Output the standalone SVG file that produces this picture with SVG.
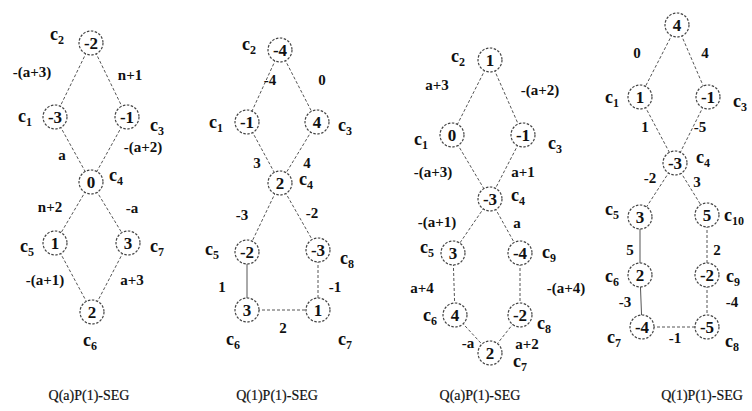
<svg xmlns="http://www.w3.org/2000/svg" width="752" height="411" viewBox="0 0 752 411" font-family="'Liberation Serif', serif">
<style>
.n circle{fill:#fff;stroke:#444;stroke-width:1.2;stroke-dasharray:2.5 1.5}
.v{font-family:"Liberation Serif",serif;font-weight:bold;font-size:17px;text-anchor:middle;fill:#111}
.c{font-family:"Liberation Serif",serif;font-weight:bold;font-size:18px;text-anchor:middle;fill:#111}
.c tspan{font-size:12px}
.w{font-family:"Liberation Serif",serif;font-weight:bold;font-size:15px;text-anchor:middle;fill:#111}
.e line{stroke:#555;stroke-width:1;stroke-dasharray:3 2}
.e line.s{stroke-dasharray:none}
.cap{font-family:"Liberation Serif",serif;font-size:14px;text-anchor:middle;fill:#111;stroke:#111;stroke-width:0.2}
</style>
<g id="connectors" class="e">
<line x1="91" y1="43" x2="55" y2="117"/><line x1="91" y1="43" x2="127" y2="117"/>
<line x1="55" y1="117" x2="91" y2="182"/><line x1="127" y1="117" x2="91" y2="182"/>
<line x1="91" y1="182" x2="55" y2="243"/><line x1="91" y1="182" x2="128" y2="243"/>
<line x1="55" y1="243" x2="92" y2="312"/><line x1="128" y1="243" x2="92" y2="312"/>
<line x1="280" y1="50" x2="247" y2="122"/><line x1="280" y1="50" x2="317" y2="122"/>
<line x1="247" y1="122" x2="280" y2="183"/><line x1="317" y1="122" x2="280" y2="183"/>
<line x1="280" y1="183" x2="247" y2="252"/><line x1="280" y1="183" x2="318" y2="250"/>
<line class="s" x1="247" y1="252" x2="247" y2="310"/><line x1="318" y1="250" x2="318" y2="310"/>
<line x1="247" y1="310" x2="318" y2="310"/>
<line x1="490" y1="60" x2="452" y2="135"/><line x1="490" y1="60" x2="523" y2="135"/>
<line x1="452" y1="135" x2="490" y2="199"/><line x1="523" y1="135" x2="490" y2="199"/>
<line x1="490" y1="199" x2="453" y2="253"/><line x1="490" y1="199" x2="520" y2="253"/>
<line x1="453" y1="253" x2="455" y2="315"/><line x1="520" y1="253" x2="520" y2="315"/>
<line x1="455" y1="315" x2="490" y2="353"/><line x1="520" y1="315" x2="490" y2="353"/>
<line x1="677" y1="25" x2="640" y2="97"/><line x1="677" y1="25" x2="708" y2="97"/>
<line x1="640" y1="97" x2="675" y2="163"/><line x1="708" y1="97" x2="675" y2="163"/>
<line x1="675" y1="163" x2="640" y2="217"/><line x1="675" y1="163" x2="707" y2="215"/>
<line class="s" x1="640" y1="217" x2="640" y2="275"/><line x1="707" y1="215" x2="707" y2="275"/>
<line class="s" x1="640" y1="275" x2="642" y2="327"/><line x1="707" y1="275" x2="707" y2="327"/>
<line x1="642" y1="327" x2="707" y2="327"/>
</g>
<g id="edge-labels">
<text class="w" x="32" y="77">-(a+3)</text><text class="w" x="130" y="80">n+1</text>
<text class="w" x="62" y="160">a</text><text class="w" x="143" y="152">-(a+2)</text>
<text class="w" x="50" y="212">n+2</text><text class="w" x="132" y="213">-a</text>
<text class="w" x="45" y="285">-(a+1)</text><text class="w" x="132" y="285">a+3</text>

<text class="w" x="270" y="85">-4</text><text class="w" x="322" y="85">0</text>
<text class="w" x="257" y="168">3</text><text class="w" x="307" y="168">4</text>
<text class="w" x="242" y="220">-3</text><text class="w" x="312" y="218">-2</text>
<text class="w" x="222" y="292">1</text><text class="w" x="335" y="292">-1</text>
<text class="w" x="283" y="333">2</text>

<text class="w" x="437" y="90">a+3</text><text class="w" x="540" y="95">-(a+2)</text>
<text class="w" x="433" y="177">-(a+3)</text><text class="w" x="523" y="177">a+1</text>
<text class="w" x="437" y="227">-(a+1)</text><text class="w" x="517" y="228">a</text>
<text class="w" x="422" y="293">a+4</text><text class="w" x="566" y="293">-(a+4)</text>
<text class="w" x="468" y="348">-a</text><text class="w" x="527" y="349">a+2</text>

<text class="w" x="637" y="58">0</text><text class="w" x="705" y="58">4</text>
<text class="w" x="645" y="132">1</text><text class="w" x="700" y="132">-5</text>
<text class="w" x="650" y="183">-2</text><text class="w" x="697" y="187">3</text>
<text class="w" x="630" y="255">5</text><text class="w" x="717" y="255">2</text>
<text class="w" x="625" y="307">-3</text><text class="w" x="732" y="307">-4</text>
<text class="w" x="675" y="343">-1</text>
</g>
<g id="d1-c2" class="n"><circle cx="91" cy="43" r="12"/><text class="v" x="91" y="49">-2</text><text class="c" x="57" y="40">c<tspan dy="4">2</tspan></text></g>
<g id="d1-c1" class="n"><circle cx="55" cy="117" r="12"/><text class="v" x="55" y="123">-3</text><text class="c" x="25" y="122">c<tspan dy="4">1</tspan></text></g>
<g id="d1-c3" class="n"><circle cx="127" cy="117" r="12"/><text class="v" x="127" y="123">-1</text><text class="c" x="157" y="131">c<tspan dy="4">3</tspan></text></g>
<g id="d1-c4" class="n"><circle cx="91" cy="182" r="12"/><text class="v" x="91" y="188">0</text><text class="c" x="116" y="181">c<tspan dy="4">4</tspan></text></g>
<g id="d1-c5" class="n"><circle cx="55" cy="243" r="12"/><text class="v" x="55" y="249">1</text><text class="c" x="27" y="252">c<tspan dy="4">5</tspan></text></g>
<g id="d1-c7" class="n"><circle cx="128" cy="243" r="12"/><text class="v" x="128" y="249">3</text><text class="c" x="157" y="252">c<tspan dy="4">7</tspan></text></g>
<g id="d1-c6" class="n"><circle cx="92" cy="312" r="12"/><text class="v" x="92" y="318">2</text><text class="c" x="90" y="346">c<tspan dy="4">6</tspan></text></g>
<g id="d2-c2" class="n"><circle cx="280" cy="50" r="12"/><text class="v" x="280" y="56">-4</text><text class="c" x="249" y="50">c<tspan dy="4">2</tspan></text></g>
<g id="d2-c1" class="n"><circle cx="247" cy="122" r="12"/><text class="v" x="247" y="128">-1</text><text class="c" x="216" y="128">c<tspan dy="4">1</tspan></text></g>
<g id="d2-c3" class="n"><circle cx="317" cy="122" r="12"/><text class="v" x="317" y="128">4</text><text class="c" x="345" y="131">c<tspan dy="4">3</tspan></text></g>
<g id="d2-c4" class="n"><circle cx="280" cy="183" r="12"/><text class="v" x="280" y="189">2</text><text class="c" x="306" y="185">c<tspan dy="4">4</tspan></text></g>
<g id="d2-c5" class="n"><circle cx="247" cy="252" r="12"/><text class="v" x="247" y="258">-2</text><text class="c" x="212" y="255">c<tspan dy="4">5</tspan></text></g>
<g id="d2-c8" class="n"><circle cx="318" cy="250" r="12"/><text class="v" x="318" y="256">-3</text><text class="c" x="347" y="264">c<tspan dy="4">8</tspan></text></g>
<g id="d2-c6" class="n"><circle cx="247" cy="310" r="12"/><text class="v" x="247" y="316">3</text><text class="c" x="233" y="345">c<tspan dy="4">6</tspan></text></g>
<g id="d2-c7" class="n"><circle cx="318" cy="310" r="12"/><text class="v" x="318" y="316">1</text><text class="c" x="345" y="345">c<tspan dy="4">7</tspan></text></g>
<g id="d3-c2" class="n"><circle cx="490" cy="60" r="12"/><text class="v" x="490" y="66">1</text><text class="c" x="458" y="62">c<tspan dy="4">2</tspan></text></g>
<g id="d3-c1" class="n"><circle cx="452" cy="135" r="12"/><text class="v" x="452" y="141">0</text><text class="c" x="421" y="145">c<tspan dy="4">1</tspan></text></g>
<g id="d3-c3" class="n"><circle cx="523" cy="135" r="12"/><text class="v" x="523" y="141">-1</text><text class="c" x="555" y="149">c<tspan dy="4">3</tspan></text></g>
<g id="d3-c4" class="n"><circle cx="490" cy="199" r="12"/><text class="v" x="490" y="205">-3</text><text class="c" x="518" y="201">c<tspan dy="4">4</tspan></text></g>
<g id="d3-c5" class="n"><circle cx="453" cy="253" r="12"/><text class="v" x="453" y="259">3</text><text class="c" x="427" y="253">c<tspan dy="4">5</tspan></text></g>
<g id="d3-c9" class="n"><circle cx="520" cy="253" r="12"/><text class="v" x="520" y="259">-4</text><text class="c" x="549" y="258">c<tspan dy="4">9</tspan></text></g>
<g id="d3-c6" class="n"><circle cx="455" cy="315" r="12"/><text class="v" x="455" y="321">4</text><text class="c" x="430" y="321">c<tspan dy="4">6</tspan></text></g>
<g id="d3-c8" class="n"><circle cx="520" cy="315" r="12"/><text class="v" x="520" y="321">-2</text><text class="c" x="544" y="329">c<tspan dy="4">8</tspan></text></g>
<g id="d3-c7" class="n"><circle cx="490" cy="353" r="12"/><text class="v" x="490" y="359">2</text><text class="c" x="520" y="367">c<tspan dy="4">7</tspan></text></g>
<g id="d4-top" class="n"><circle cx="677" cy="25" r="12"/><text class="v" x="677" y="31">4</text></g>
<g id="d4-c1" class="n"><circle cx="640" cy="97" r="12"/><text class="v" x="640" y="103">1</text><text class="c" x="612" y="103">c<tspan dy="4">1</tspan></text></g>
<g id="d4-c3" class="n"><circle cx="708" cy="97" r="12"/><text class="v" x="708" y="103">-1</text><text class="c" x="740" y="107">c<tspan dy="4">3</tspan></text></g>
<g id="d4-c4" class="n"><circle cx="675" cy="163" r="12"/><text class="v" x="675" y="169">-3</text><text class="c" x="703" y="163">c<tspan dy="4">4</tspan></text></g>
<g id="d4-c5" class="n"><circle cx="640" cy="217" r="12"/><text class="v" x="640" y="223">3</text><text class="c" x="612" y="215">c<tspan dy="4">5</tspan></text></g>
<g id="d4-c10" class="n"><circle cx="707" cy="215" r="12"/><text class="v" x="707" y="221">5</text><text class="c" x="734" y="221">c<tspan dy="4">10</tspan></text></g>
<g id="d4-c6" class="n"><circle cx="640" cy="275" r="12"/><text class="v" x="640" y="281">2</text><text class="c" x="612" y="282">c<tspan dy="4">6</tspan></text></g>
<g id="d4-c9" class="n"><circle cx="707" cy="275" r="12"/><text class="v" x="707" y="281">-2</text><text class="c" x="733" y="282">c<tspan dy="4">9</tspan></text></g>
<g id="d4-c7" class="n"><circle cx="642" cy="327" r="12"/><text class="v" x="642" y="333">-4</text><text class="c" x="614" y="343">c<tspan dy="4">7</tspan></text></g>
<g id="d4-c8" class="n"><circle cx="707" cy="327" r="12"/><text class="v" x="707" y="333">-5</text><text class="c" x="732" y="347">c<tspan dy="4">8</tspan></text></g>
<g id="captions">
<text class="cap" x="89" y="400">Q(a)P(1)-SEG</text>
<text class="cap" x="277" y="400">Q(1)P(1)-SEG</text>
<text class="cap" x="480" y="400">Q(a)P(1)-SEG</text>
<text class="cap" x="702" y="400">Q(1)P(1)-SEG</text>
</g>
</svg>
